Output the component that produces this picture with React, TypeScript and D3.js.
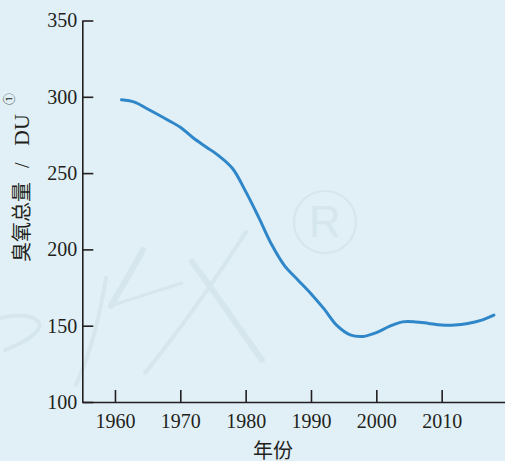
import * as d3 from 'd3';
import { useEffect, useRef } from 'react';

// ozone total (DU) by year
const years = [1961, 1963, 1965, 1968, 1970, 1972, 1974, 1976, 1978, 1980, 1982, 1984, 1986, 1988, 1990, 1992, 1994, 1996, 1998, 2000, 2002, 2004, 2006, 2008, 2010, 2012, 2014, 2016, 2018];
const ozone = [298, 296.5, 292, 285, 280, 273, 267, 261, 253, 238, 221, 203, 189, 180, 171, 161, 150, 144, 143, 145.5, 149.5, 152.5, 152.5, 151.5, 150.5, 150.5, 151.5, 153.5, 157];
const xTicks = [1960, 1970, 1980, 1990, 2000, 2010];
const yTicks = [100, 150, 200, 250, 300, 350];

const W = 505;
const H = 461;
const ink = '#231f20';
const mark = '#d6e6ed';

const App = () => {
  const ref = useRef(null);

  useEffect(() => {
    document.body.style.margin = '0';
    const svg = d3.select(ref.current);
    svg.selectAll('*').remove();

    svg.append('rect').attr('width', W).attr('height', H).attr('fill', '#e1f0f6');

    // faint watermark
    const wm = svg.append('g').attr('fill', 'none').attr('stroke', mark).attr('stroke-linecap', 'round');
    wm.append('circle').attr('cx', 325).attr('cy', 222).attr('r', 31).attr('stroke-width', 2.2);
    wm.append('text').attr('x', 325).attr('y', 237).attr('text-anchor', 'middle')
      .attr('fill', mark).attr('stroke', 'none')
      .style('font-family', 'Liberation Sans, sans-serif').style('font-size', '44px').text('R');
    const strokes = [
      ['M106,278 C100,315 92,350 76,385', 4],
      ['M143,250 C132,270 120,290 111,306', 6],
      ['M110,306 C135,298 160,290 182,283', 3],
      ['M246,232 C215,280 180,330 145,373', 4],
      ['M192,262 C215,292 240,330 262,360', 6],
      ['M0,318 C25,312 45,318 38,330 C30,340 15,346 5,350', 4],
    ];
    strokes.forEach(([d, w]) => wm.append('path').attr('d', d).attr('stroke-width', w));

    const x = d3.scaleLinear().domain([1955, 2020]).range([82.3, 507]);
    const y = d3.scaleLinear().domain([100, 350]).range([402, 20.5]);

    const font = 'Liberation Serif, Noto Sans CJK SC, serif';

    const yAxis = svg.append('g').attr('transform', `translate(${x(1955)},0)`)
      .call(d3.axisLeft(y).tickValues(yTicks).tickSizeInner(-11).tickSizeOuter(0).tickPadding(5));
    const xAxis = svg.append('g').attr('transform', `translate(0,${y(100)})`)
      .call(d3.axisBottom(x).tickValues(xTicks).tickFormat(d3.format('d')).tickSizeInner(-12).tickSizeOuter(0).tickPadding(12));

    [yAxis, xAxis].forEach(a => {
      a.selectAll('path, line').attr('stroke', ink).attr('stroke-width', 1.6);
      a.selectAll('text').attr('fill', ink).style('font-family', font).style('font-size', '20px');
    });

    const line = d3.line()
      .x((d, i) => x(years[i]))
      .y(d => y(d))
      .curve(d3.curveCatmullRom.alpha(0.5));

    svg.append('path')
      .datum(ozone)
      .attr('d', line)
      .attr('fill', 'none')
      .attr('stroke', '#2f87c9')
      .attr('stroke-width', 3)
      .attr('stroke-linecap', 'round');

    // axis titles
    svg.append('text')
      .attr('x', 273).attr('y', 458)
      .attr('text-anchor', 'middle')
      .attr('fill', ink)
      .style('font-family', font).style('font-size', '20px')
      .text('年份');

    const yt = svg.append('text')
      .attr('transform', 'translate(29,262) rotate(-90)')
      .attr('fill', ink)
      .style('font-family', font).style('font-size', '20px');
    yt.append('tspan').attr('x', 0).attr('y', 0).text('臭氧总量');
    yt.append('tspan').attr('x', 94).attr('y', 0).text('/');
    yt.append('tspan').attr('x', 116).attr('y', 0).style('font-size', '22px').text('DU');
    yt.append('tspan').attr('x', 157).attr('y', -15)
      .style('font-family', 'Noto Sans CJK SC, DejaVu Sans, sans-serif').style('font-size', '12px').text('①');
  }, []);

  return <svg ref={ref} width={W} height={H} style={{ display: 'block' }}></svg>;
};

export default App;
